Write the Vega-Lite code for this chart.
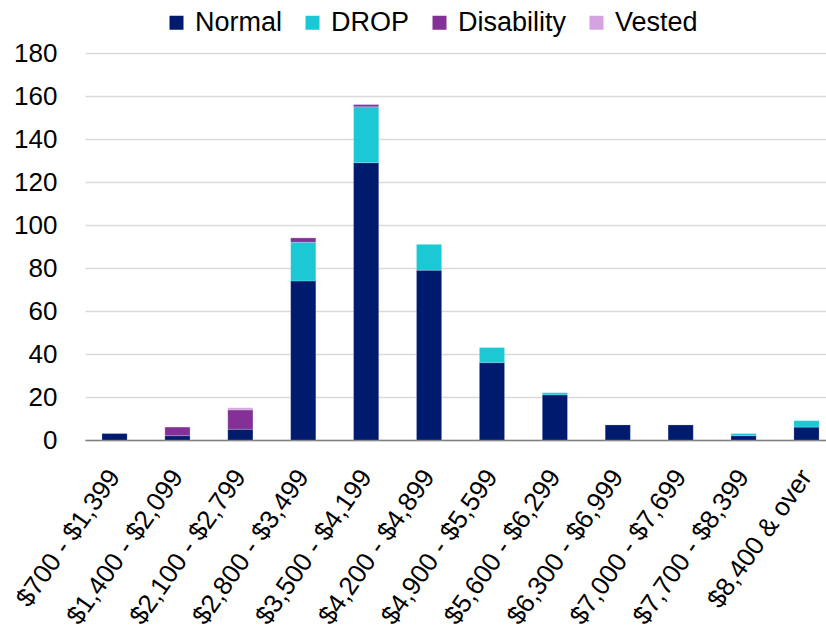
{
  "$schema": "https://vega.github.io/schema/vega-lite/v6.json",
  "width": 741,
  "height": 387,
  "autosize": {"type": "none"},
  "padding": {"left": 85, "top": 53, "right": 0, "bottom": 197},
  "background": "white",
  "config": {
    "view": {"stroke": null},
    "font": "Liberation Sans",
    "axis": {"labelFont": "Liberation Sans", "labelColor": "#000000"},
    "legend": {"labelFont": "Liberation Sans"}
  },
  "data": {
    "values": [
      {"range": "$700 - $1,399", "type": "Normal", "o": 1, "count": 3},
      {"range": "$1,400 - $2,099", "type": "Normal", "o": 1, "count": 2},
      {"range": "$1,400 - $2,099", "type": "Disability", "o": 3, "count": 4},
      {"range": "$2,100 - $2,799", "type": "Normal", "o": 1, "count": 5},
      {"range": "$2,100 - $2,799", "type": "Disability", "o": 3, "count": 9},
      {"range": "$2,100 - $2,799", "type": "Vested", "o": 4, "count": 1},
      {"range": "$2,800 - $3,499", "type": "Normal", "o": 1, "count": 74},
      {"range": "$2,800 - $3,499", "type": "DROP", "o": 2, "count": 18},
      {"range": "$2,800 - $3,499", "type": "Disability", "o": 3, "count": 2},
      {"range": "$3,500 - $4,199", "type": "Normal", "o": 1, "count": 129},
      {"range": "$3,500 - $4,199", "type": "DROP", "o": 2, "count": 26},
      {"range": "$3,500 - $4,199", "type": "Disability", "o": 3, "count": 1},
      {"range": "$4,200 - $4,899", "type": "Normal", "o": 1, "count": 79},
      {"range": "$4,200 - $4,899", "type": "DROP", "o": 2, "count": 12},
      {"range": "$4,900 - $5,599", "type": "Normal", "o": 1, "count": 36},
      {"range": "$4,900 - $5,599", "type": "DROP", "o": 2, "count": 7},
      {"range": "$5,600 - $6,299", "type": "Normal", "o": 1, "count": 21},
      {"range": "$5,600 - $6,299", "type": "DROP", "o": 2, "count": 1},
      {"range": "$6,300 - $6,999", "type": "Normal", "o": 1, "count": 7},
      {"range": "$7,000 - $7,699", "type": "Normal", "o": 1, "count": 7},
      {"range": "$7,700 - $8,399", "type": "Normal", "o": 1, "count": 2},
      {"range": "$7,700 - $8,399", "type": "DROP", "o": 2, "count": 1},
      {"range": "$8,400 & over", "type": "Normal", "o": 1, "count": 6},
      {"range": "$8,400 & over", "type": "DROP", "o": 2, "count": 3}
    ]
  },
  "mark": {"type": "bar", "stroke": "#ffffff", "strokeWidth": 0.5, "strokeOpacity": 0.4},
  "encoding": {
    "x": {
      "field": "range",
      "type": "nominal",
      "sort": null,
      "title": null,
      "scale": {"paddingInner": 0.6, "paddingOuter": 0.19, "align": 0.71},
      "axis": {
        "labelAngle": -55,
        "labelAlign": "right",
        "labelBaseline": "middle",
        "labelFontSize": 26,
        "labelPadding": 32,
        "ticks": false,
        "domainColor": "#7f7f7f",
        "domainWidth": 1.5,
        "labelLimit": 400,
        "labelOverlap": false
      }
    },
    "y": {
      "field": "count",
      "type": "quantitative",
      "stack": "zero",
      "title": null,
      "scale": {"domain": [0, 180]},
      "axis": {
        "values": [0, 20, 40, 60, 80, 100, 120, 140, 160, 180],
        "labelFontSize": 26,
        "ticks": false,
        "domain": false,
        "labelPadding": 28,
        "gridColor": "#d9d9d9",
        "gridWidth": 1.5
      }
    },
    "color": {
      "field": "type",
      "type": "nominal",
      "scale": {
        "domain": ["Normal", "DROP", "Disability", "Vested"],
        "range": ["#001a6e", "#1cc8d4", "#833197", "#d5a3e0"]
      },
      "legend": {
        "title": null,
        "orient": "none",
        "direction": "horizontal",
        "legendX": 78,
        "legendY": -44,
        "symbolType": "square",
        "symbolSize": 196,
        "symbolStrokeWidth": 0,
        "labelFontSize": 27,
        "labelOffset": 5,
        "columnPadding": 16
      }
    },
    "order": {"field": "o", "type": "quantitative"}
  }
}
